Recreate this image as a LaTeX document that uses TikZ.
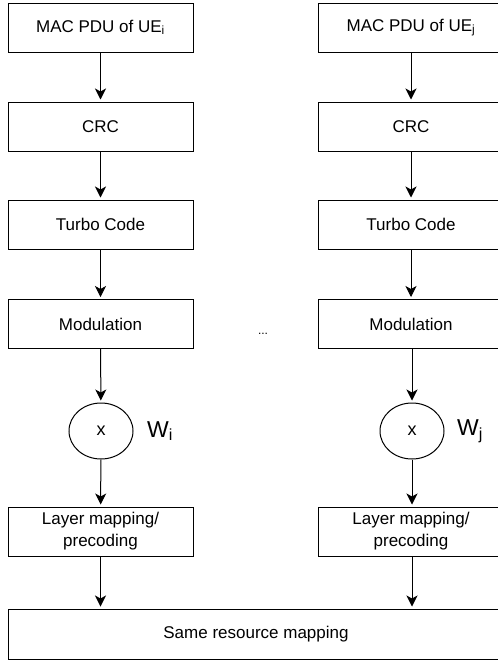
\documentclass[tikz,border=0pt]{standalone}
\usepackage{fontspec}
\setmainfont{Liberation Sans}
\usetikzlibrary{arrows.meta,shapes.geometric}
\begin{document}
\begin{tikzpicture}[x=1pt,y=-1pt,
  box/.style={draw,line width=1pt,minimum width=185pt,minimum height=49pt,inner sep=0pt,font=\fontsize{17}{22}\selectfont,align=center},
  mult/.style={draw,line width=1pt,ellipse,minimum width=64pt,minimum height=56pt,inner sep=0pt,font=\fontsize{18}{20}\selectfont},
  arr/.style={line width=1pt,-{Stealth[length=11pt,width=11pt,inset=3pt]},shorten >=2pt},
  wlab/.style={font=\fontsize{23}{25}\selectfont,anchor=west,inner sep=0pt}]
\useasboundingbox (0,0) rectangle (498,662);
\clip (0,0) rectangle (498,662);
% left column
\node[box] (a1) at (100.5,27.5) {MAC PDU of UE\textsubscript{i}};
\node[box] (a2) at (100.5,126.5) {CRC};
\node[box] (a3) at (100.5,224.5) {Turbo Code};
\node[box] (a4) at (100.5,324) {Modulation};
\node[mult] (a5) at (101,431) {x};
\node[wlab] (wa) at (147,431) {W\textsubscript{i}};
\node[box] (a6) at (100.5,531.5) {Layer mapping/\\precoding};
% right column
\node[box] (b1) at (411,27.5) {MAC PDU of UE\textsubscript{j}};
\node[box] (b2) at (411,126.5) {CRC};
\node[box] (b3) at (411,224.5) {Turbo Code};
\node[box] (b4) at (411,324) {Modulation};
\node[mult] (b5) at (412,431) {x};
\node[wlab] (wb) at (457,431) {W\textsubscript{j}};
\node[box] (b6) at (411,531.5) {Layer mapping/\\precoding};
% dots
\node[font=\fontsize{12}{14}\selectfont] (dots) at (263,334) {...};
% bottom
\node[box,minimum width=496pt,minimum height=50pt] (c) at (256,634) {Same resource mapping};
% arrows
\draw[arr] (a1) -- (a2);
\draw[arr] (a2) -- (a3);
\draw[arr] (a3) -- (a4);
\draw[arr] (a4) -- (a5);
\draw[arr] (a5) -- (a6);
\draw[arr] (a6.south) -- (a6.south |- c.north);
\draw[arr] (b1) -- (b2);
\draw[arr] (b2) -- (b3);
\draw[arr] (b3) -- (b4);
\draw[arr] (b4.south -| b5) -- (b5);
\draw[arr] (b5) -- (b5 |- b6.north);
\draw[arr] (b6.south -| b5) -- (b5 |- c.north);
\end{tikzpicture}
\end{document}
